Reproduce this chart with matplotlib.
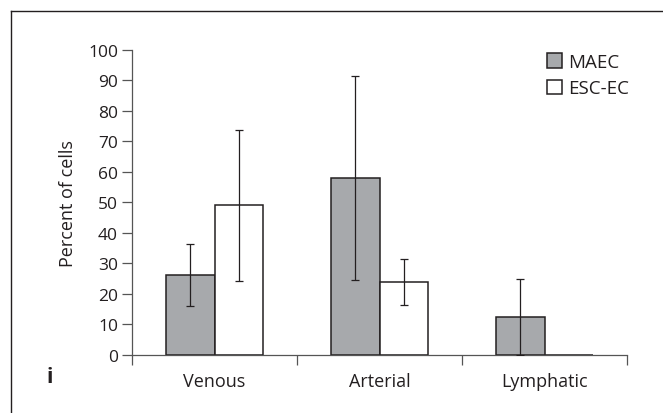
import matplotlib
matplotlib.use("Agg")
import matplotlib.pyplot as plt
from matplotlib.lines import Line2D
from matplotlib.patches import Patch
import numpy as np

categories = ["Venous", "Arterial", "Lymphatic"]
series_names = ["MAEC", "ESC-EC"]
maec = [26.2, 58.0, 12.5]
maec_err = [10.0, 33.5, 12.5]
escec = [49.0, 24.0, 0.0]
escec_err = [24.7, 7.5, 0.0]
yticks = [0, 10, 20, 30, 40, 50, 60, 70, 80, 90, 100]

ink = "#231f20"
gray = "#a7a9ac"
plt.rcParams['font.family'] = ['Open Sans', 'DejaVu Sans']

fig = plt.figure(figsize=(6.63, 4.14), dpi=100)
W, H = 663, 414
ax = fig.add_axes([132 / W, 1 - 356 / H, (627 - 132) / W, (356 - 50.7) / H])

x = np.arange(len(categories))
bw = 0.295
ekw = dict(ecolor=ink, elinewidth=0.9, capsize=3, capthick=0.9)
ax.bar(x - bw / 2, maec, bw, color=gray, edgecolor=ink, linewidth=1.1, label=series_names[0], zorder=2)
ax.bar(x + bw / 2, escec, bw, color="white", edgecolor=ink, linewidth=1.1, label=series_names[1], zorder=2)
for xi, v, e in zip(x - bw / 2, maec, maec_err):
    if e > 0:
        ax.errorbar(xi, v, yerr=e, fmt="none", zorder=3, **ekw)
for xi, v, e in zip(x + bw / 2, escec, escec_err):
    if e > 0:
        ax.errorbar(xi, v, yerr=e, fmt="none", zorder=3, **ekw)

ax.set_xlim(-0.5, len(categories) - 0.5)
ax.set_ylim(0, 100)
ax.set_yticks(yticks)
ax.set_xticks(np.arange(len(categories) + 1) - 0.5)
ax.set_xticklabels([])
ax.set_xticks(x, minor=True)
ax.set_xticklabels(categories, minor=True)
ax.tick_params(axis="x", which="minor", length=0, pad=12, labelsize=13, colors=ink)
ax.tick_params(axis="x", which="major", length=7, width=0.9, color="#555555", direction="out")
ax.tick_params(axis="y", length=7, width=0.9, color="#555555", labelsize=12.5, labelcolor=ink, pad=3)
for s in ["top", "right"]:
    ax.spines[s].set_visible(False)
for s in ["left", "bottom"]:
    ax.spines[s].set_color("#555555")
    ax.spines[s].set_linewidth(0.9)
ax.set_ylabel("Percent of cells", fontsize=13, color=ink, labelpad=8)

handles = [Patch(facecolor=gray, edgecolor=ink, linewidth=1.1, label=series_names[0]),
           Patch(facecolor="white", edgecolor=ink, linewidth=1.1, label=series_names[1])]
leg = fig.legend(handles=handles, loc="upper left", bbox_to_anchor=(547 / W, 1 - 54 / H),
                 bbox_transform=fig.transFigure, frameon=False, borderpad=0, borderaxespad=0,
                 fontsize=13.5, handlelength=0.8, handleheight=0.8, handletextpad=0.3,
                 labelspacing=0.45, labelcolor=ink)

fig.text(50 / W, 1 - 378 / H, "i", fontsize=15, fontweight="bold", color=ink, ha="center", va="center")

fig.add_artist(Line2D([11 / W, 11 / W], [0, 1 - 12 / H], color=ink, linewidth=1.0, transform=fig.transFigure))
fig.add_artist(Line2D([11 / W, 1], [1 - 12 / H, 1 - 12 / H], color=ink, linewidth=1.0, transform=fig.transFigure))

fig.savefig("out.png", dpi=100)
